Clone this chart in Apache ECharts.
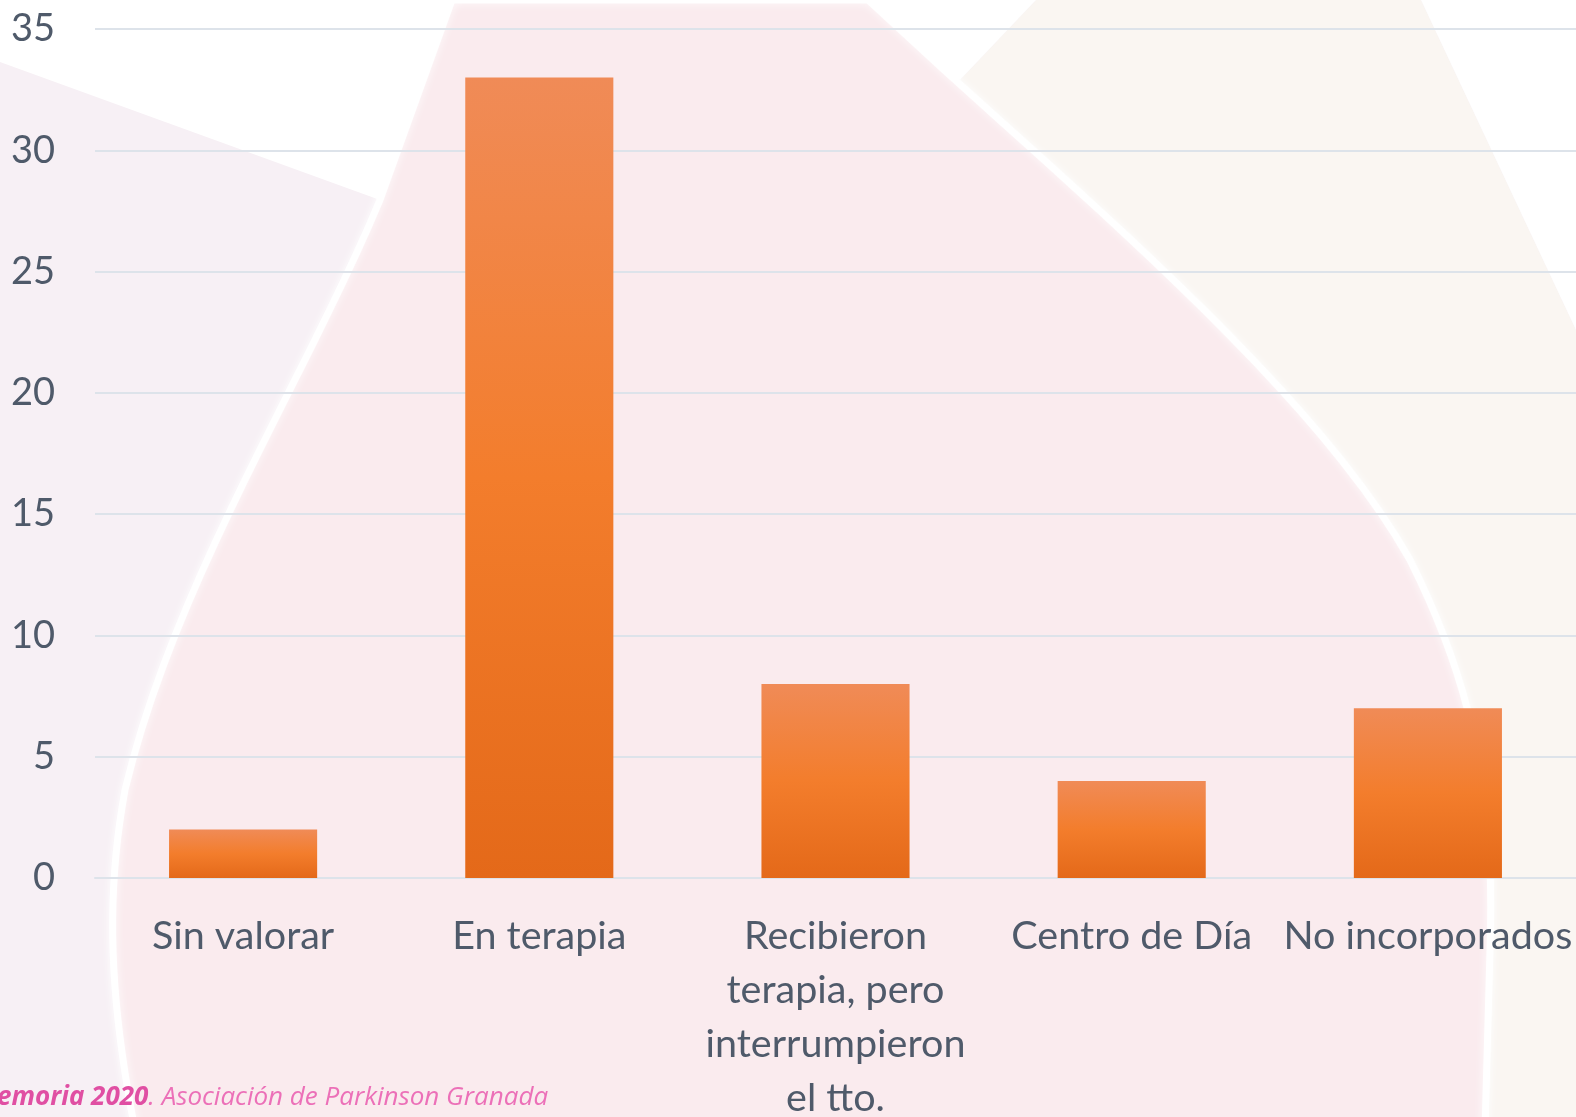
<!DOCTYPE html>
<html>
<head>
<meta charset="utf-8">
<script src="https://cdn.jsdelivr.net/npm/echarts@6/dist/echarts.min.js"></script>
<style>
  html, body { margin: 0; padding: 0; background: #f7f0f5; }
  #chart { width: 1576px; height: 1117px; }
</style>
</head>
<body>
<div id="chart"></div>
<script>
// categorías del gráfico (con saltos de línea como en el original)
const categorias = [
  'Sin valorar',
  'En terapia',
  'Recibieron\nterapia, pero\ninterrumpieron\nel tto.',
  'Centro de Día',
  'No incorporados'
];
const valores = [2, 33, 8, 4, 7];
const ejeY = { min: 0, max: 35, intervalo: 5 };

const TXT = '#4f5a6a';
const GRID = '#dde3ea';

const chart = echarts.init(document.getElementById('chart'));

// curva bezier cúbica muestreada (sólo para el contorno decorativo del fondo)
function bez(p0, p1, p2, p3, n) {
  const pts = [];
  for (let i = 1; i <= n; i++) {
    const t = i / n, u = 1 - t;
    pts.push([
      u * u * u * p0[0] + 3 * u * u * t * p1[0] + 3 * u * t * t * p2[0] + t * t * t * p3[0],
      u * u * u * p0[1] + 3 * u * u * t * p1[1] + 3 * u * t * t * p2[1] + t * t * t * p3[1]
    ]);
  }
  return pts;
}
const contorno = [[452, 0], [868, 0], [944, 70]]
  .concat(bez([944, 70], [1110, 220], [1320, 400], [1410, 560], 20))
  .concat(bez([1410, 560], [1475, 690], [1495, 800], [1490, 950], 20))
  .concat([[1485, 1130], [135, 1130]])
  .concat(bez([135, 1130], [110, 1000], [105, 900], [125, 790], 20))
  .concat(bez([125, 790], [175, 580], [305, 380], [380, 200], 20));

// fondo: marca de agua difuminada (aprox.)
const fondo = [
  { type: 'rect', shape: { x: 0, y: 0, width: 1576, height: 1117 }, style: { fill: '#f7f0f5' }, z: -30 },
  // zona crema a la derecha
  { type: 'polygon', shape: { points: [[1036, 0], [1421, 0], [1576, 330], [1576, 1117], [900, 1117], [900, 80], [960, 80]] },
    style: { fill: '#faf6f2' }, z: -29 },
  // triángulo blanco superior central
  { type: 'polygon', shape: { points: [[868, 0], [1036, 0], [960, 80], [944, 70]] }, style: { fill: '#ffffff' }, z: -29 },
  // esquina blanca superior derecha
  { type: 'polygon', shape: { points: [[1421, 0], [1576, 0], [1576, 330]] }, style: { fill: '#ffffff' }, z: -28 },
  // forma rosa central con borde blanco
  {
    type: 'polygon', z: -27,
    shape: { points: contorno },
    style: { fill: '#faebee', stroke: 'rgba(255,255,255,0.95)', lineWidth: 7, shadowBlur: 10, shadowColor: 'rgba(255,255,255,0.9)' }
  },
  // triángulo blanco superior izquierdo
  { type: 'polygon', shape: { points: [[0, 0], [452, 0], [380, 200], [0, 62]] }, style: { fill: '#ffffff' }, z: -26 },
  {
    type: 'text', left: -3, top: 1085, z: 10,
    style: {
      text: '{b|emoria 2020}{n|. Asociación de Parkinson Granada}',
      rich: {
        b: { fontFamily: 'Open Sans', fontStyle: 'italic', fontWeight: 'bold', fontSize: 26, fill: '#e04fa3' },
        n: { fontFamily: 'Open Sans', fontStyle: 'italic', fontSize: 26, fill: '#ec70b8' }
      }
    }
  }
];

chart.setOption({
  backgroundColor: '#f7f0f5',
  animation: false,
  graphic: fondo,
  grid: { left: 95, right: 0, top: 29, bottom: 239, containLabel: false, outerBoundsMode: 'none' },
  xAxis: {
    type: 'category',
    data: categorias,
    axisLine: { show: true, lineStyle: { color: GRID, width: 2 } },
    axisTick: { show: false },
    axisLabel: {
      interval: 0, margin: 31, color: TXT, fontFamily: 'Lato', fontSize: 39.5, lineHeight: 54
    }
  },
  yAxis: {
    type: 'value',
    min: ejeY.min, max: ejeY.max, interval: ejeY.intervalo,
    axisLine: { show: false },
    axisTick: { show: false },
    splitLine: { lineStyle: { color: GRID, width: 2 } },
    axisLabel: { margin: 40, color: TXT, fontFamily: 'Lato', fontSize: 38 }
  },
  series: [{
    type: 'bar',
    data: valores,
    barWidth: '50%',
    itemStyle: {
      color: new echarts.graphic.LinearGradient(0, 0, 0, 1, [
        { offset: 0, color: '#f08b57' },
        { offset: 0.5, color: '#f37d2c' },
        { offset: 1, color: '#e46919' }
      ])
    }
  }]
});
</script>
</body>
</html>
